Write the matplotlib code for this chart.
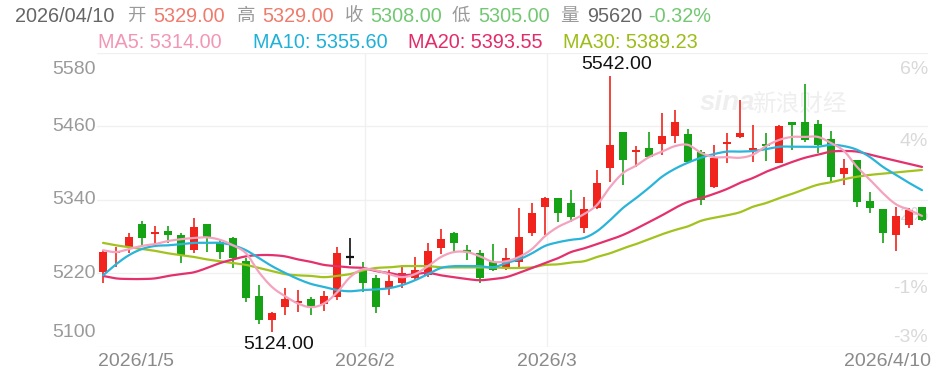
import matplotlib
matplotlib.use("Agg")
import matplotlib.pyplot as plt
import numpy as np

plt.rcParams['font.family'] = ['Liberation Sans', 'Noto Sans CJK SC', 'DejaVu Sans']

# ---------------- data ----------------
opens = [5222, 5253, 5263, 5301, 5284, 5289, 5283, 5258, 5301, 5271,
         5278, 5240, 5183, 5144, 5165, 5172, 5178, 5170, 5181, 5247,
         5225, 5212, 5196, 5204, 5212, 5217, 5261, 5286, 5257, 5253,
         5239, 5229, 5239, 5286, 5329, 5343, 5335, 5294, 5327, 5392,
         5451, 5418, 5425, 5432, 5445, 5448, 5419, 5361, 5432, 5443,
         5421, 5432, 5401, 5468, 5468, 5464, 5440, 5383, 5405, 5338,
         5325, 5283, 5299, 5329]
highs = [5258, 5263, 5286, 5306, 5297, 5297, 5286, 5311, 5301, 5276,
         5279, 5245, 5201, 5157, 5196, 5193, 5181, 5191, 5263, 5278,
         5239, 5217, 5225, 5234, 5247, 5270, 5293, 5288, 5266, 5258,
         5268, 5261, 5327, 5335, 5345, 5343, 5356, 5345, 5389, 5542,
         5451, 5428, 5451, 5482, 5487, 5456, 5422, 5430, 5450, 5504,
         5463, 5450, 5463, 5468, 5530, 5471, 5453, 5407, 5405, 5353,
         5325, 5329, 5327, 5329]
lows = [5204, 5230, 5253, 5263, 5263, 5270, 5237, 5253, 5255, 5243,
        5229, 5173, 5137, 5124, 5152, 5157, 5152, 5158, 5176, 5234,
        5189, 5155, 5185, 5196, 5207, 5214, 5252, 5255, 5242, 5204,
        5224, 5225, 5230, 5281, 5283, 5304, 5304, 5286, 5325, 5369,
        5365, 5394, 5409, 5414, 5433, 5401, 5332, 5360, 5401, 5441,
        5402, 5404, 5401, 5422, 5435, 5417, 5369, 5365, 5329, 5319,
        5270, 5257, 5294, 5305]
closes = [5255, 5257, 5279, 5278, 5287, 5283, 5250, 5296, 5279, 5255,
          5245, 5180, 5144, 5155, 5178, 5175, 5167, 5183, 5253, 5247,
          5204, 5165, 5207, 5221, 5225, 5257, 5276, 5270, 5255, 5212,
          5225, 5245, 5279, 5319, 5343, 5319, 5312, 5325, 5368, 5430,
          5405, 5421, 5410, 5445, 5468, 5402, 5340, 5409, 5435, 5450,
          5425, 5428, 5460, 5463, 5438, 5430, 5378, 5392, 5337, 5327,
          5286, 5314, 5324, 5308]

ma5 = [5258, 5255, 5260, 5265, 5268, 5273, 5276, 5278, 5279, 5275,
       5266, 5253, 5222, 5198, 5183, 5171, 5165, 5171, 5189, 5214,
       5227, 5225, 5219, 5214, 5219, 5232, 5247, 5255, 5255, 5248,
       5239, 5240, 5247, 5260, 5281, 5296, 5306, 5317, 5332, 5361,
       5384, 5396, 5410, 5419, 5428, 5430, 5417, 5410, 5410, 5409,
       5414, 5428, 5438, 5443, 5443, 5443, 5433, 5420, 5394, 5373,
       5351, 5333, 5324, 5314]
ma10 = [5217, 5235, 5250, 5260, 5265, 5266, 5268, 5270, 5270, 5270,
        5266, 5258, 5245, 5232, 5221, 5211, 5203, 5198, 5193, 5191,
        5193, 5194, 5196, 5201, 5209, 5219, 5229, 5232, 5232, 5232,
        5230, 5237, 5243, 5253, 5265, 5271, 5275, 5278, 5289, 5307,
        5327, 5343, 5360, 5378, 5391, 5401, 5409, 5415, 5419, 5419,
        5420, 5423, 5427, 5427, 5427, 5427, 5430, 5428, 5422, 5410,
        5394, 5381, 5368, 5356]
ma20 = [5216, 5212, 5211, 5211, 5212, 5216, 5219, 5222, 5229, 5237,
        5243, 5248, 5250, 5250, 5248, 5243, 5239, 5234, 5232, 5230,
        5229, 5224, 5221, 5217, 5219, 5221, 5217, 5214, 5211, 5209,
        5211, 5214, 5221, 5229, 5237, 5245, 5255, 5261, 5268, 5275,
        5283, 5293, 5304, 5315, 5327, 5337, 5343, 5350, 5358, 5368,
        5376, 5386, 5394, 5402, 5409, 5414, 5419, 5420, 5419, 5414,
        5409, 5404, 5399, 5394]
ma30 = [5270, 5266, 5263, 5260, 5257, 5253, 5250, 5247, 5243, 5240,
        5237, 5234, 5229, 5224, 5219, 5217, 5216, 5214, 5216, 5219,
        5225, 5229, 5230, 5232, 5232, 5232, 5230, 5230, 5230, 5230,
        5230, 5229, 5229, 5230, 5234, 5235, 5238, 5240, 5247, 5253,
        5261, 5268, 5276, 5284, 5291, 5297, 5306, 5311, 5315, 5320,
        5329, 5335, 5343, 5350, 5358, 5365, 5369, 5374, 5378, 5381,
        5383, 5385, 5387, 5389]

x_tick_labels = ["2026/1/5", "2026/2", "2026/3", "2026/4/10"]
x_tick_index = [0, 20, 34, 63]
y_ticks = [5580, 5460, 5340, 5220, 5100]
pct_labels = ["6%", "4%", "2%", "-1%", "-3%"]

header_date = "2026/04/10"
header_keys = ["开", "高", "收", "低", "量"]
header_vals = ["5329.00", "5329.00", "5308.00", "5305.00", "95620"]
header_pct = "-0.32%"
ma_names = ["MA5", "MA10", "MA20", "MA30"]
ma_last = ["5314.00", "5355.60", "5393.55", "5389.23"]
max_label = "5542.00"
min_label = "5124.00"

# ---------------- styling ----------------
RED = '#f0241c'
GREEN = '#15a215'
MA_COLORS = ['#f4a3bf', '#2ab4da', '#e4306c', '#a2c21e']
MA_TEXT = ['#f296b6', '#1fb1d8', '#e22c69', '#9cbd18']
GRID = '#f0f0f0'

W, H = 950, 380
fig = plt.figure(figsize=(W / 100, H / 100), dpi=100)
fig.patch.set_facecolor('white')

L, R, T, B = 97, 928, 53, 347
ax = fig.add_axes([L / W, 1 - B / H, (R - L) / W, (B - T) / H])
ax.set_facecolor('white')
n = len(closes)
xs = np.arange(n)
ax.set_xlim(-6 / 13, (R - 103) / 13)
ax.set_ylim(5100, 5580)
for s in ax.spines.values():
    s.set_visible(False)
ax.set_xticks([])
ax.set_yticks([])

# grid
for yv in y_ticks:
    ax.axhline(yv, color=GRID, lw=1.0, zorder=0)
for xi in x_tick_index[1:3]:
    ax.axvline(xi + 0.15, color=GRID, lw=1.0, zorder=0)


def fpx(x, y):
    return x / W, 1 - y / H


def smooth(x, y, k=10):
    """Catmull-Rom curve through the given points (drawing only)."""
    x = np.asarray(x, float)
    y = np.asarray(y, float)
    px = np.concatenate([[2 * x[0] - x[1]], x, [2 * x[-1] - x[-2]]])
    py = np.concatenate([[2 * y[0] - y[1]], y, [2 * y[-1] - y[-2]]])
    t = np.linspace(0, 1, k, endpoint=False)
    ox, oy = [], []
    for i in range(1, len(px) - 2):
        for arr, out in ((px, ox), (py, oy)):
            p0, p1, p2, p3 = arr[i - 1], arr[i], arr[i + 1], arr[i + 2]
            out.extend(0.5 * ((2 * p1) + (-p0 + p2) * t + (2 * p0 - 5 * p1 + 4 * p2 - p3) * t ** 2
                              + (-p0 + 3 * p1 - 3 * p2 + p3) * t ** 3))
    ox.append(x[-1])
    oy.append(y[-1])
    return np.array(ox), np.array(oy)


# price labels (left, outside)
for k, yv in enumerate(y_ticks):
    va, off = 'center', 0
    if k == 0:
        va, off = 'top', -6
    elif k == len(y_ticks) - 1:
        va, off = 'bottom', 4
    ax.annotate(str(yv), xy=(0, yv), xycoords=('axes fraction', 'data'),
                xytext=(-1, off), textcoords='offset points', ha='right', va=va,
                fontsize=14, color='#9a9a9a', zorder=1)

# percent labels (right, inside, behind candles)
for k, (yv, lab) in enumerate(zip(y_ticks, pct_labels)):
    if k == len(y_ticks) - 1:
        va, off = 'bottom', 1
    else:
        va, off = 'top', (-5 if k else -6)
    ax.annotate(lab, xy=(1, yv), xycoords=('axes fraction', 'data'),
                xytext=(0, off), textcoords='offset points', ha='right', va=va,
                fontsize=14, color='#d9d9d9', zorder=0.5)

# watermark
ax.text(*fpx(700, 103), "sina", transform=fig.transFigure, fontsize=20,
        fontweight='bold', style='italic', color='#efefef', va='center', ha='left', zorder=0.6)
ax.text(*fpx(752, 104), "新浪财经", transform=fig.transFigure, fontsize=17,
        style='italic', color='#efefef', va='center', ha='left', zorder=0.6)

# MA lines
for vals, col in zip([ma30, ma20, ma10, ma5], MA_COLORS[::-1]):
    sx, sy = smooth(xs, vals)
    ax.plot(sx, sy, color=col, lw=1.6, zorder=3, solid_joinstyle='round',
            solid_capstyle='round')

# candles
bw = 0.62
for i in range(n):
    o, h, l, c = opens[i], highs[i], lows[i], closes[i]
    col = RED if c > o else (GREEN if c < o else '#111111')
    ax.vlines(i, l, h, color=col, lw=1.2, zorder=2)
    if abs(c - o) < 3:
        ax.hlines((o + c) / 2, i - bw / 2, i + bw / 2, color=col, lw=1.6, zorder=2)
    else:
        ax.bar(i, abs(c - o), bottom=min(o, c), width=bw, color=col,
               edgecolor=col, lw=0, zorder=2)

# max/min labels
imax = int(np.argmax(highs))
imin = int(np.argmin(lows))
ax.annotate(max_label, xy=(imax, highs[imax]), xytext=(5, 2), textcoords='offset points',
            ha='center', va='bottom', fontsize=14, color='#111111', zorder=5)
ax.annotate(min_label, xy=(imin, lows[imin]), xytext=(5, -3), textcoords='offset points',
            ha='center', va='top', fontsize=14, color='#111111', zorder=5)

# x tick labels
for k, (idx, lab) in enumerate(zip(x_tick_index, x_tick_labels)):
    if k == 0:
        fig.text(98 / W, 1 - 362 / H, lab, ha='left', va='center', fontsize=14, color='#8a8a8a')
    elif k == len(x_tick_labels) - 1:
        fig.text(931 / W, 1 - 362 / H, lab, ha='right', va='center', fontsize=14, color='#8a8a8a')
    else:
        ax.text(idx + 0.15, -0.05, lab, transform=ax.get_xaxis_transform(),
                ha='center', va='center', fontsize=14, color='#8a8a8a')

# header row 1
HS = 14.3
fig.text(*fpx(15, 16), header_date, fontsize=HS, color='#666666', va='center')
key_x = [127, 237, 345, 452, 560]
val_x = [153, 262, 370, 478, 587]
vcol = ['#f07a6c', '#f07a6c', '#72c872', '#72c872', '#666666']
for key, val, xk, xv, col in zip(header_keys, header_vals, key_x, val_x, vcol):
    fig.text(*fpx(xk, 16), key, fontsize=HS - 1, color='#9a9a9a', va='center')
    fig.text(*fpx(xv, 16), val, fontsize=HS, color=col, va='center')
fig.text(*fpx(648, 16), header_pct, fontsize=HS, color='#72c872', va='center')

# header row 2
ma_x = [98, 253, 408, 563]
for nm, val, xx, col in zip(ma_names, ma_last, ma_x, MA_TEXT):
    fig.text(*fpx(xx, 43), f"{nm}: {val}", fontsize=HS, color=col, va='center')

fig.savefig("out.png", dpi=100, facecolor='white')
